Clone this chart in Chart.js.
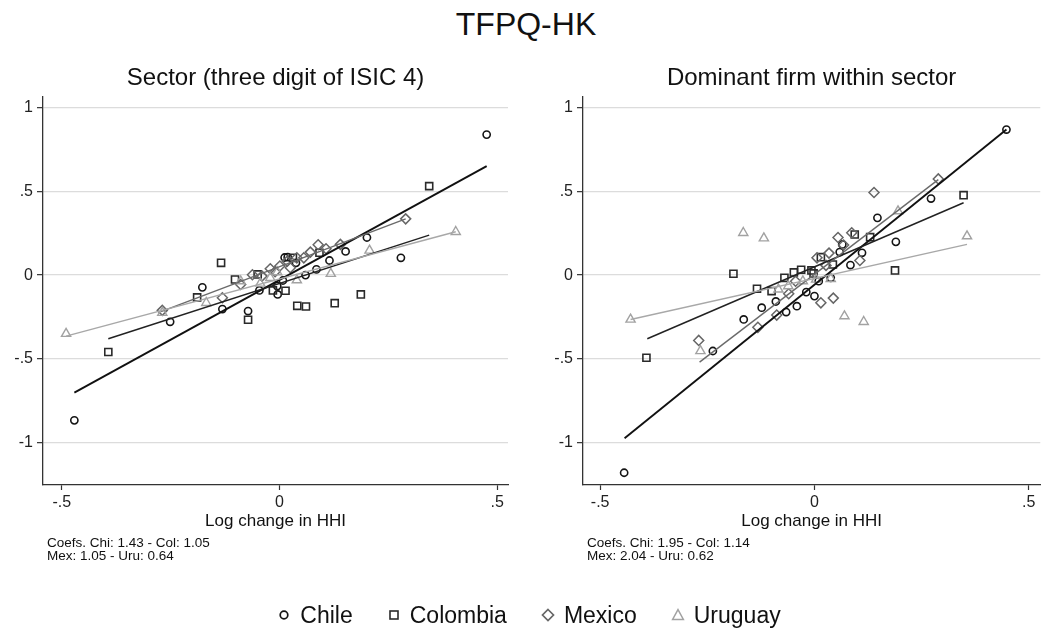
<!DOCTYPE html>
<html>
<head>
<meta charset="utf-8">
<script src="https://cdn.jsdelivr.net/npm/chart.js@4.4.1/dist/chart.umd.min.js"></script>
<style>
  html, body { margin:0; padding:0; background:#fff; width:1045px; height:629px; overflow:hidden; position:relative;
               font-family:"Liberation Sans", Arial, sans-serif; }
  #title { position:absolute; left:0; width:1052px; top:5px; text-align:center; font-size:32px; line-height:38px; color:#111; }
  #c1 { position:absolute; left:0; top:0; }
  #c2 { position:absolute; left:540px; top:0; }
  #legend { position:absolute; left:0; width:1058px; top:600px; height:30px; display:flex; justify-content:center;
            align-items:center; font-size:23px; color:#111; }
  .item { display:flex; align-items:center; margin:0 17px; }
  .item svg { margin-right:9px; }
</style>
</head>
<body>
<div id="title">TFPQ-HK</div>
<canvas id="c1" width="522" height="629"></canvas>
<canvas id="c2" width="507" height="629"></canvas>
<div id="legend"></div>
<script>
// ---- series: [log change in HHI, log change in TFPQ] ----
const countries = ['Chile', 'Colombia', 'Mexico', 'Uruguay'];
const countryAbbr = ['Chi', 'Col', 'Mex', 'Uru'];

// Sector level (three digit ISIC 4)
const sectorChile = [[0.476,0.837],[-0.471,-0.865],[-0.251,-0.278],[-0.177,-0.073],[-0.131,-0.202],[-0.072,-0.214],
  [-0.046,-0.091],[-0.004,-0.115],[0.008,-0.032],[0.019,0.107],[0.038,0.073],[0.060,0.0],[0.085,0.034],[0.115,0.087],
  [0.152,0.141],[0.201,0.224],[0.279,0.103],[-0.005,-0.065],[0.012,0.105]];
const sectorColombia = [[0.344,0.530],[-0.393,-0.458],[-0.134,0.073],[-0.102,-0.026],[-0.189,-0.133],[-0.072,-0.266],
  [-0.015,-0.091],[0.014,-0.093],[0.041,-0.183],[0.061,-0.187],[0.127,-0.167],[0.187,-0.115],[-0.050,0.004],
  [0.031,0.103],[0.092,0.133]];
const sectorMexico = [[0.290,0.335],[-0.269,-0.210],[-0.131,-0.135],[-0.089,-0.056],[-0.062,0.002],[-0.021,0.038],
  [0.001,0.054],[0.018,0.083],[0.040,0.103],[0.056,0.103],[0.071,0.137],[0.089,0.181],[0.107,0.157],[0.140,0.183],
  [-0.040,-0.006],[0.025,0.044],[-0.010,0.020]];
const sectorUruguay = [[-0.490,-0.349],[0.405,0.258],[0.207,0.147],[0.118,0.008],[0.040,-0.030],[-0.168,-0.165],
  [-0.089,-0.036],[-0.269,-0.224],[-0.044,-0.050],[-0.021,-0.016],[-0.005,0.018]];

// Linear fits, sector level (endpoints)
const sectorFitChile = [[-0.471,-0.700],[0.476,0.649]];
const sectorFitColombia = [[-0.393,-0.379],[0.344,0.238]];
const sectorFitMexico = [[-0.272,-0.218],[0.290,0.335]];
const sectorFitUruguay = [[-0.490,-0.363],[0.405,0.258]];

// Dominant firm within sector
const firmChile = [[0.448,0.867],[-0.444,-1.177],[-0.237,-0.452],[-0.165,-0.264],[-0.123,-0.194],[-0.090,-0.157],
  [-0.066,-0.220],[-0.041,-0.185],[-0.019,-0.101],[0.000,-0.125],[0.010,-0.036],[0.038,-0.016],[0.059,0.137],
  [0.084,0.060],[0.111,0.133],[0.147,0.341],[0.190,0.198],[0.272,0.456],[0.065,0.183]];
const firmColombia = [[0.348,0.476],[-0.392,-0.492],[-0.189,0.008],[-0.134,-0.081],[-0.100,-0.095],[-0.070,-0.016],
  [-0.048,0.016],[-0.031,0.032],[-0.007,0.028],[-0.002,0.010],[0.015,0.107],[0.043,0.063],[0.130,0.226],
  [0.188,0.028],[0.094,0.242]];
const firmMexico = [[0.289,0.573],[0.139,0.492],[-0.270,-0.389],[-0.132,-0.311],[-0.088,-0.238],[-0.060,-0.111],
  [-0.044,-0.036],[0.015,-0.165],[0.044,-0.137],[0.106,0.087],[0.055,0.224],[0.034,0.131],[0.087,0.252],
  [0.006,0.103],[0.027,0.058],[0.068,0.179]];
const firmUruguay = [[0.356,0.232],[-0.429,-0.264],[-0.166,0.252],[-0.118,0.220],[0.070,-0.244],[0.115,-0.278],
  [-0.266,-0.452],[0.195,0.381],[-0.084,-0.085],[-0.061,-0.065],[-0.027,-0.036],[0.004,-0.026],[0.038,-0.022]];

// Linear fits, dominant firm (endpoints)
const firmFitChile = [[-0.443,-0.972],[0.448,0.867]];
const firmFitColombia = [[-0.390,-0.379],[0.348,0.431]];
const firmFitMexico = [[-0.268,-0.518],[0.289,0.569]];
const firmFitUruguay = [[-0.429,-0.264],[0.356,0.183]];

// Reported slope coefficients (Chi, Col, Mex, Uru)
const sectorCoefs = [1.43, 1.05, 1.05, 0.64];
const firmCoefs = [1.95, 1.14, 2.04, 0.62];

// Axis ticks
const xTicks = [-0.5, 0, 0.5];
const yTicks = [-1, -0.5, 0, 0.5, 1];

// ---- styling ----
const FONT = '"Liberation Sans", Arial, sans-serif';
Chart.defaults.font.family = FONT;
const markerStyle = [
  { shape:'circle',   radius:3.6, color:'#151515', width:1.6 },
  { shape:'rect',     radius:5.0, color:'#2a2a2a', width:1.6 },
  { shape:'rectRot',  radius:5.0, color:'#666666', width:1.5 },
  { shape:'triangle', radius:5.3, color:'#a2a2a2', width:1.4 }
];
const fitStyle = [
  { color:'#111111', width:1.9 },
  { color:'#222222', width:1.5 },
  { color:'#6a6a6a', width:1.4 },
  { color:'#a8a8a8', width:1.4 }
];

const fmt = v => {
  if (v === 0) return '0';
  const s = String(v);
  return s.replace(/^(-?)0\./, '$1.');
};
const toXY = arr => arr.map(([x, y]) => ({ x, y }));

function buildDatasets(points, fits) {
  const ds = [];
  fits.forEach((f, i) => ds.push({
    label: countries[i] + ' fit', data: toXY(f), showLine: true, pointRadius: 0,
    borderColor: fitStyle[i].color, borderWidth: fitStyle[i].width, fill: false,
    order: 4 - i
  }));
  points.forEach((p, i) => ds.push({
    label: countries[i], data: toXY(p), showLine: false,
    pointStyle: markerStyle[i].shape, pointRadius: markerStyle[i].radius,
    pointBorderColor: markerStyle[i].color, pointBackgroundColor: 'rgba(0,0,0,0)',
    pointBorderWidth: markerStyle[i].width, order: 8 - i
  }));
  return ds;
}

function noteLines(coefs) {
  const part = i => countryAbbr[i] + ': ' + coefs[i].toFixed(2);
  return ['Coefs. ' + part(0) + ' - ' + part(1), part(2) + ' - ' + part(3)];
}

const notesPlugin = {
  id: 'notes',
  afterDraw(chart, args, opts) {
    const { ctx, chartArea } = chart;
    ctx.save();
    ctx.font = '13.5px ' + FONT;
    ctx.fillStyle = '#111';
    ctx.textBaseline = 'middle';
    ctx.textAlign = 'left';
    (opts.lines || []).forEach((t, i) => ctx.fillText(t, chartArea.left + 4, chartArea.bottom + 58 + i * 13.7));
    ctx.restore();
  }
};

function makeChart(canvasId, subtitle, xMin, xMax, rightPad, points, fits, coefs) {
  return new Chart(document.getElementById(canvasId), {
    type: 'scatter',
    data: { datasets: buildDatasets(points, fits) },
    plugins: [notesPlugin],
    options: {
      responsive: false, animation: false, devicePixelRatio: 1,
      layout: { padding: { top: 50, left: 0, right: rightPad, bottom: 97 } },
      plugins: {
        legend: { display: false },
        tooltip: { enabled: false },
        title: { display: true, text: subtitle, fullSize: false, color: '#111',
                 font: { size: 24, weight: 'normal', family: FONT }, padding: { top: 14, bottom: 4 } },
        notes: { lines: noteLines(coefs) }
      },
      scales: {
        x: {
          type: 'linear', min: xMin, max: xMax,
          afterBuildTicks: s => { s.ticks = xTicks.map(v => ({ value: v })); },
          afterFit: s => { s.height = 47; },
          grid: { drawOnChartArea: false, drawTicks: true, tickLength: 5, tickColor: '#333', tickWidth: 1.2 },
          border: { display: true, color: '#333', width: 1.3 },
          ticks: { callback: fmt, color: '#222', font: { size: 16 }, padding: 3, maxRotation: 0, autoSkip: false },
          title: { display: true, text: 'Log change in HHI', color: '#111', font: { size: 17 }, padding: 0 }
        },
        y: {
          type: 'linear', min: -1.25, max: 1.062,
          afterBuildTicks: s => { s.ticks = yTicks.map(v => ({ value: v })); },
          afterFit: s => { s.width = 43; },
          grid: { color: '#dcdcdc', lineWidth: 1.3, drawTicks: true, tickLength: 6, tickColor: '#333', tickWidth: 1.2 },
          border: { display: true, color: '#333', width: 1.3 },
          ticks: { callback: fmt, color: '#222', font: { size: 16 }, padding: 4, autoSkip: false }
        }
      }
    }
  });
}

makeChart('c1', 'Sector (three digit of ISIC 4)', -0.543, 0.525, 14,
  [sectorChile, sectorColombia, sectorMexico, sectorUruguay],
  [sectorFitChile, sectorFitColombia, sectorFitMexico, sectorFitUruguay], sectorCoefs);

makeChart('c2', 'Dominant firm within sector', -0.540, 0.527, 0,
  [firmChile, firmColombia, firmMexico, firmUruguay],
  [firmFitChile, firmFitColombia, firmFitMexico, firmFitUruguay], firmCoefs);

// ---- shared legend ----
function legendSymbol(i) {
  const m = markerStyle[i];
  const c = m.color;
  let shape;
  if (m.shape === 'circle') shape = '<circle cx="7" cy="7" r="3.8" fill="none" stroke="' + c + '" stroke-width="1.7"/>';
  else if (m.shape === 'rect') shape = '<rect x="3" y="3" width="8" height="8" fill="none" stroke="' + c + '" stroke-width="1.6"/>';
  else if (m.shape === 'rectRot') shape = '<polygon points="7,1.5 12.5,7 7,12.5 1.5,7" fill="none" stroke="' + c + '" stroke-width="1.7"/>';
  else shape = '<polygon points="7,1.6 12.4,11.5 1.6,11.5" fill="none" stroke="' + c + '" stroke-width="1.5"/>';
  return '<svg width="14" height="14" viewBox="0 0 14 14">' + shape + '</svg>';
}
document.getElementById('legend').innerHTML = countries.map((name, i) =>
  '<div class="item">' + legendSymbol(i) + '<span>' + name + '</span></div>').join('');
</script>
</body>
</html>
